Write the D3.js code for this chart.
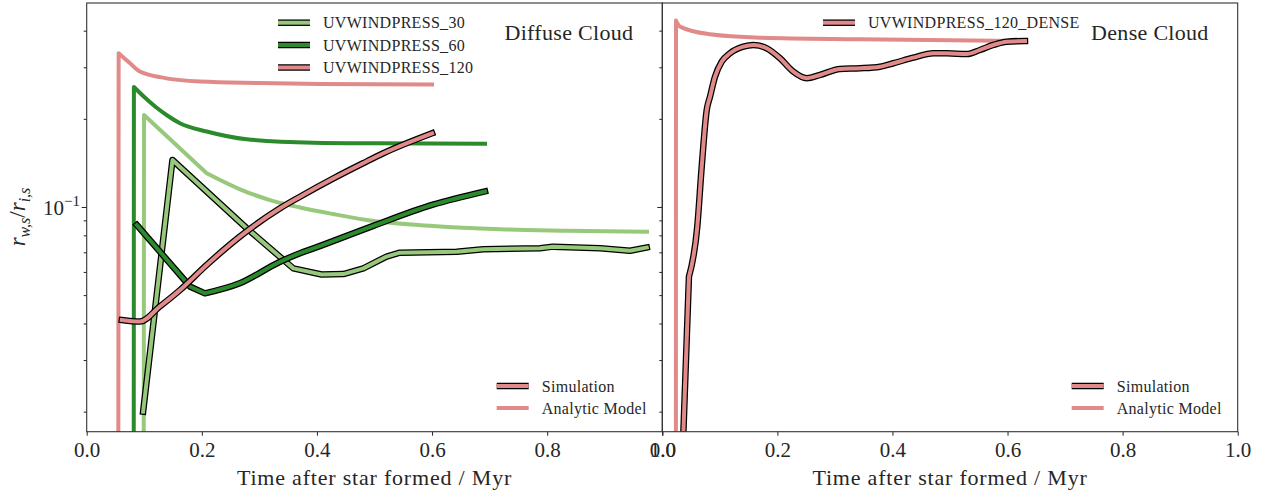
<!DOCTYPE html>
<html><head><meta charset="utf-8">
<script src="https://cdn.jsdelivr.net/npm/d3@7"></script>
<style>
body{margin:0;background:#fff}
svg{display:block}
text{font-family:"Liberation Serif","DejaVu Serif",serif;fill:#262626}
</style>
</head><body>
<svg id="chart" width="1266" height="493"></svg>
<script>
// ---------- data ----------
const xTicks = [0, 0.2, 0.4, 0.6, 0.8, 1.0];
const yMajorTicks = [0.1];
const yMinorTicks = [0.02, 0.03, 0.04, 0.05, 0.06, 0.07, 0.08, 0.09, 0.2, 0.3, 0.4];
const runNames = ["UVWINDPRESS_30", "UVWINDPRESS_60", "UVWINDPRESS_120"];
const denseName = "UVWINDPRESS_120_DENSE";
const runColors = ["#98c87c", "#2b8a2b", "#e08a8a"];
const panelTitles = ["Diffuse Cloud", "Dense Cloud"];
const styleLabels = ["Simulation", "Analytic Model"];

// Diffuse cloud, UVWINDPRESS_30
const t30Model = [0.0985, 0.0996, 0.2085, 0.2663, 0.3184, 0.3706, 0.4279, 0.4865, 0.6016, 0.7181, 0.8344, 0.9734];
const v30Model = [0.001, 0.206, 0.1303, 0.1149, 0.1056, 0.0996, 0.0946, 0.0903, 0.0861, 0.0839, 0.0830, 0.0823];
const t30Sim = [0.098, 0.149, 0.278, 0.359, 0.408, 0.446, 0.4806, 0.521, 0.544, 0.643, 0.689, 0.7875, 0.81, 0.892, 0.944, 0.973];
const v30Sim = [0.020, 0.1447, 0.0846, 0.0617, 0.0588, 0.059, 0.0617, 0.0677, 0.0698, 0.0703, 0.0717, 0.0723, 0.0732, 0.0723, 0.0709, 0.0727];

// Diffuse cloud, UVWINDPRESS_60
const t60Model = [0.0815, 0.082, 0.10, 0.12, 0.14, 0.162, 0.2085, 0.278, 0.394, 0.5, 0.692];
const v60Model = [0.001, 0.257, 0.2375, 0.2196, 0.2053, 0.1932, 0.181, 0.1703, 0.1658, 0.165, 0.1645];
const t60Sim = [0.087, 0.18, 0.2055, 0.266, 0.336, 0.3706, 0.394, 0.498, 0.6, 0.692];
const v60Sim = [0.0868, 0.0534, 0.0507, 0.0549, 0.065, 0.0695, 0.0722, 0.0862, 0.1016, 0.113];

// Diffuse cloud, UVWINDPRESS_120
const t120Model = [0.0545, 0.0555, 0.075, 0.0926, 0.13, 0.197, 0.3, 0.405, 0.6];
const v120Model = [0.001, 0.335, 0.31, 0.29, 0.277, 0.268, 0.265, 0.263, 0.262];
const t120Sim = [0.061, 0.0926, 0.127, 0.162, 0.2085, 0.266, 0.336, 0.3706, 0.428, 0.48, 0.5154, 0.6];
const v120Sim = [0.0411, 0.0406, 0.0457, 0.052, 0.0634, 0.0792, 0.099, 0.1084, 0.125, 0.141, 0.1526, 0.1785];

// Dense cloud, UVWINDPRESS_120_DENSE
const tDenseModel = [0.0235, 0.0238, 0.0308, 0.0829, 0.1698, 0.3433, 0.630];
const vDenseModel = [0.001, 0.433, 0.413, 0.389, 0.3786, 0.374, 0.369];
const tDenseSim = [0.0339, 0.0463, 0.0608, 0.0685, 0.0772, 0.0829, 0.0916, 0.1032, 0.1177, 0.1408, 0.1582, 0.1814, 0.2046, 0.2277, 0.251, 0.2741, 0.3088, 0.3436, 0.3783, 0.4015, 0.4362, 0.471, 0.4943, 0.529, 0.5521, 0.5753, 0.5985, 0.6303];
const vDenseSim = [0.012, 0.0578, 0.0857, 0.1373, 0.2145, 0.238, 0.2786, 0.3134, 0.3349, 0.3527, 0.3575, 0.3483, 0.322, 0.2899, 0.2752, 0.2824, 0.2960, 0.2976, 0.3014, 0.3096, 0.3236, 0.3349, 0.3349, 0.3327, 0.3437, 0.3575, 0.3668, 0.369];

// ---------- layout ----------
const svg = d3.select("#chart");
const plotTop = 3, plotBottom = 431.7;
const panels = [{x0: 86.7, x1: 662.3}, {x0: 662.3, x1: 1237.7}];
const y = d3.scaleLog().domain([0.01708, 0.4973]).range([plotBottom, plotTop]);
const xs = panels.map(p => d3.scaleLinear().domain([0, 1]).range([p.x0, p.x1]));

const defs = svg.append("defs");
panels.forEach((p, i) => {
  defs.append("clipPath").attr("id", "clip" + i)
    .append("rect").attr("x", p.x0).attr("y", plotTop).attr("width", p.x1 - p.x0).attr("height", plotBottom - plotTop);
});

const zip = (t, v) => t.map((d, i) => [d, v[i]]);

// path: straight segments for the first `nLinear` points, then a smooth (monotone) tail
function pathD(x, data, nLinear, smooth) {
  const curve = smooth ? d3.curveMonotoneX : d3.curveLinear;
  const line = d3.line().x(d => x(d[0])).y(d => y(d[1])).curve(curve);
  if (!nLinear) return line(data);
  const head = d3.line().x(d => x(d[0])).y(d => y(d[1]))(data.slice(0, nLinear));
  const tail = line(data.slice(nLinear - 1));
  return head + "L" + tail.slice(1);
}

function drawModel(g, x, t, v, color, nLinear, smooth) {
  g.append("path").attr("d", pathD(x, zip(t, v), nLinear, smooth))
    .attr("fill", "none").attr("stroke", color).attr("stroke-width", 4)
    .attr("stroke-linejoin", "round").attr("stroke-linecap", "square");
}
function drawSim(g, x, t, v, color, nLinear, smooth) {
  const d = pathD(x, zip(t, v), nLinear, smooth);
  g.append("path").attr("d", d)
    .attr("fill", "none").attr("stroke", "#000").attr("stroke-width", 6.5)
    .attr("stroke-linejoin", "round").attr("stroke-linecap", "square");
  g.append("path").attr("d", d)
    .attr("fill", "none").attr("stroke", color).attr("stroke-width", 4)
    .attr("stroke-linejoin", "round").attr("stroke-linecap", "square");
}

// ---------- axes ----------
panels.forEach((p, i) => {
  const x = xs[i];
  const ax = svg.append("g").attr("transform", `translate(0,${plotBottom})`)
    .call(d3.axisBottom(x).tickValues(xTicks).tickFormat(d3.format(".1f")).tickSize(4).tickPadding(6));
  ax.select(".domain").remove();
  ax.selectAll("line").attr("stroke", "#222");
  ax.selectAll("text").attr("font-size", 21).attr("font-family", '"Liberation Serif",serif').attr("fill", "#262626");

  const ayMaj = svg.append("g").attr("transform", `translate(${p.x0},0)`)
    .call(d3.axisLeft(y).tickValues(yMajorTicks).tickFormat("").tickSize(5));
  ayMaj.select(".domain").remove();
  ayMaj.selectAll("line").attr("stroke", "#222");
  const ayMin = svg.append("g").attr("transform", `translate(${p.x0},0)`)
    .call(d3.axisLeft(y).tickValues(yMinorTicks).tickFormat("").tickSize(3));
  ayMin.select(".domain").remove();
  ayMin.selectAll("line").attr("stroke", "#222");

  svg.append("text").attr("x", (p.x0 + p.x1) / 2).attr("y", 485)
    .attr("text-anchor", "middle").attr("font-size", 22).attr("letter-spacing", 0.8)
    .text("Time after star formed / Myr");

  svg.append("text").attr("x", p.x1 - 29).attr("y", 40)
    .attr("text-anchor", "end").attr("font-size", 22).attr("letter-spacing", 0.3)
    .text(panelTitles[i]);
});

// y tick label 10^-1
yMajorTicks.forEach(v => {
  const tx = svg.append("text").attr("x", 80).attr("y", y(v) + 8).attr("text-anchor", "end").attr("font-size", 21);
  tx.append("tspan").text("10");
  tx.append("tspan").attr("dy", -9).attr("font-size", 15).text("\u22121");
});

// y label
const yl = svg.append("text").attr("transform", "translate(25,217) rotate(-90)")
  .attr("text-anchor", "middle").attr("font-size", 23).attr("font-style", "italic");
yl.append("tspan").text("r");
yl.append("tspan").attr("dy", 5).attr("font-size", 16).text("w,s");
yl.append("tspan").attr("dy", -5).attr("font-style", "normal").text("/");
yl.append("tspan").text("r");
yl.append("tspan").attr("dy", 5).attr("font-size", 16).text("i,s");

// ---------- lines ----------
const g0 = svg.append("g").attr("clip-path", "url(#clip0)");
const x0 = xs[0];
drawModel(g0, x0, t30Model, v30Model, runColors[0], 3, true);
drawSim(g0, x0, t30Sim, v30Sim, runColors[0], 0, false);
drawModel(g0, x0, t60Model, v60Model, runColors[1], 2, true);
drawSim(g0, x0, t60Sim, v60Sim, runColors[1], 3, true);
drawModel(g0, x0, t120Model, v120Model, runColors[2], 2, true);
drawSim(g0, x0, t120Sim, v120Sim, runColors[2], 0, true);

const g1 = svg.append("g").attr("clip-path", "url(#clip1)");
const x1 = xs[1];
drawModel(g1, x1, tDenseModel, vDenseModel, runColors[2], 2, true);
drawSim(g1, x1, tDenseSim, vDenseSim, runColors[2], 2, true);

// ---------- spines ----------
panels.forEach(p => {
  svg.append("rect").attr("x", p.x0).attr("y", plotTop).attr("width", p.x1 - p.x0).attr("height", plotBottom - plotTop)
    .attr("fill", "none").attr("stroke", "#333").attr("stroke-width", 1.1);
});

// ---------- legends ----------
function legendEntry(x, yy, color, outlined, label) {
  if (outlined) {
    svg.append("line").attr("x1", x).attr("x2", x + 32).attr("y1", yy).attr("y2", yy)
      .attr("stroke", "#000").attr("stroke-width", 6.5);
  }
  svg.append("line").attr("x1", x).attr("x2", x + 32).attr("y1", yy).attr("y2", yy)
    .attr("stroke", color).attr("stroke-width", 4);
  svg.append("text").attr("x", x + 45).attr("y", yy + 5.5).attr("font-size", 16).attr("letter-spacing", 0.3).text(label);
}
const legYs = [22.7, 45, 67.5];
runNames.forEach((n, i) => legendEntry(278, legYs[i], runColors[i], true, n));
legendEntry(823, 22.7, runColors[2], true, denseName);

[496.7, 1071.7].forEach(lx => {
  legendEntry(lx, 386, runColors[2], true, styleLabels[0]);
  legendEntry(lx, 408, runColors[2], false, styleLabels[1]);
});
</script>
</body></html>
